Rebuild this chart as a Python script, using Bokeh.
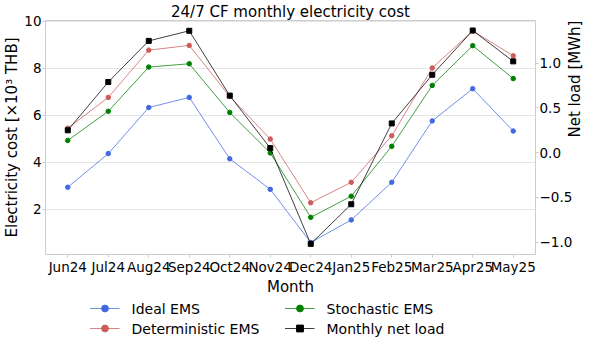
import math
from bokeh.plotting import figure
from bokeh.layouts import column
from bokeh.models import (Range1d, LinearAxis, FixedTicker, Legend, LegendItem)
from bokeh.embed import file_html
from bokeh.resources import INLINE

months = ["Jun24", "Jul24", "Aug24", "Sep24", "Oct24", "Nov24",
          "Dec24", "Jan25", "Feb25", "Mar25", "Apr25", "May25"]
ideal = [2.94, 4.37, 6.33, 6.76, 4.15, 2.85, 0.59, 1.55, 3.15, 5.76, 7.13, 5.33]
deterministic = [5.45, 6.76, 8.77, 8.97, 6.80, 4.99, 2.28, 3.15, 5.13, 8.01, 9.59, 8.53]
stochastic = [4.93, 6.17, 8.05, 8.19, 6.12, 4.40, 1.66, 2.56, 4.68, 7.27, 8.96, 7.56]
net_load = [0.25, 0.79, 1.25, 1.363, 0.638, 0.051, -1.02, -0.577, 0.327, 0.871, 1.366, 1.021]

left_ticks = [2, 4, 6, 8, 10]
right_ticks = [-1.0, -0.5, 0.0, 0.5, 1.0]
right_tick_labels = ["\u22121.0", "\u22120.5", "0.0", "0.5", "1.0"]

FONT = "DejaVu Sans"
SPINE = "#cccccc"

x = list(range(len(months)))

p = figure(frame_width=490, frame_height=234, output_backend="svg", toolbar_location=None,
           x_range=Range1d(-0.55, 11.55), y_range=Range1d(0.08, 10.03),
           min_border_left=0, min_border_right=0, min_border_top=0, min_border_bottom=0)
p.extra_y_ranges = {"net": Range1d(-1.139, 1.478)}

p.title.text = "24/7 CF monthly electricity cost"
p.title.align = "center"
p.title.text_font = FONT
p.title.text_font_size = "15px"
p.title.text_font_style = "normal"
p.title.text_color = "black"
p.title.standoff = 0
p.title.offset = 0

p.outline_line_color = SPINE
p.outline_line_width = 1

# axes
xa = p.xaxis[0]
xa.ticker = FixedTicker(ticks=x)
xa.major_label_overrides = {i: m for i, m in enumerate(months)}
xa.axis_label = "Month"

ya = p.yaxis[0]
ya.ticker = FixedTicker(ticks=left_ticks)
ya.axis_label = "Electricity cost [\u00d710\u00b3 THB]"

ra = LinearAxis(y_range_name="net", axis_label="Net load [MWh]")
ra.ticker = FixedTicker(ticks=right_ticks)
ra.major_label_overrides = {t: l for t, l in zip(right_ticks, right_tick_labels)}
ra.axis_label_orientation = math.pi / 2
p.add_layout(ra, "right")

for ax in [xa, ya, ra]:
    ax.axis_line_color = None
    ax.major_tick_line_color = SPINE
    ax.major_tick_out = 3
    ax.major_tick_in = 0
    ax.minor_tick_line_color = None
    ax.major_label_text_font = FONT
    ax.major_label_text_font_size = "13.5px"
    ax.major_label_text_color = "black"
    ax.major_label_standoff = 1
    ax.axis_label_text_font = FONT
    ax.axis_label_text_font_size = "15px"
    ax.axis_label_text_font_style = "normal"
    ax.axis_label_text_color = "black"
    ax.axis_label_standoff = 0

p.xgrid.grid_line_color = None
p.ygrid.grid_line_color = "#e6e6e6"
p.ygrid.grid_line_width = 1

series = [
    ("Ideal EMS", ideal, "#4169e1", "circle", 4.5, "default"),
    ("Deterministic EMS", deterministic, "#cd5c5c", "circle", 4.5, "default"),
    ("Stochastic EMS", stochastic, "#008000", "circle", 4.5, "default"),
    ("Monthly net load", net_load, "#000000", "square", 5, "net"),
]

# legend strip below the chart: an axis-less figure whose view excludes the data,
# so only the legend is visible
pl = figure(width=582, height=40, output_backend="svg", toolbar_location=None,
            x_axis_location=None, y_axis_location=None,
            x_range=Range1d(1000, 1001), y_range=Range1d(1000, 1001),
            min_border_left=0, min_border_right=0, min_border_top=0, min_border_bottom=0)
pl.outline_line_color = None
pl.grid.visible = False

items = {}
for label, vals, col, marker, size, rng in series:
    p.line(x, vals, line_color=col, line_width=1, line_alpha=0.75, y_range_name=rng)
    p.scatter(x, vals, marker=marker, size=size, fill_color=col, line_color=col,
              y_range_name=rng)
    l1 = pl.line(x, vals, line_color=col, line_width=1, line_alpha=0.75)
    l2 = pl.scatter(x, vals, marker=marker, size=size, fill_color=col, line_color=col)
    items[label] = LegendItem(label=label, renderers=[l1, l2])

# row-major order so the columns read as in the reference
legend_order = ["Ideal EMS", "Stochastic EMS", "Deterministic EMS", "Monthly net load"]
legend = Legend(items=[items[k] for k in legend_order], ncols=2, orientation="horizontal",
                location="center",
                label_text_font=FONT, label_text_font_size="14px", label_text_color="black",
                glyph_width=30, glyph_height=17, label_height=17, label_width=150,
                label_standoff=12, spacing=3, padding=1, margin=0,
                border_line_color=None, background_fill_alpha=0)
pl.add_layout(legend, "center")

open("out.html", "w").write(file_html(column(p, pl, spacing=0), INLINE))
